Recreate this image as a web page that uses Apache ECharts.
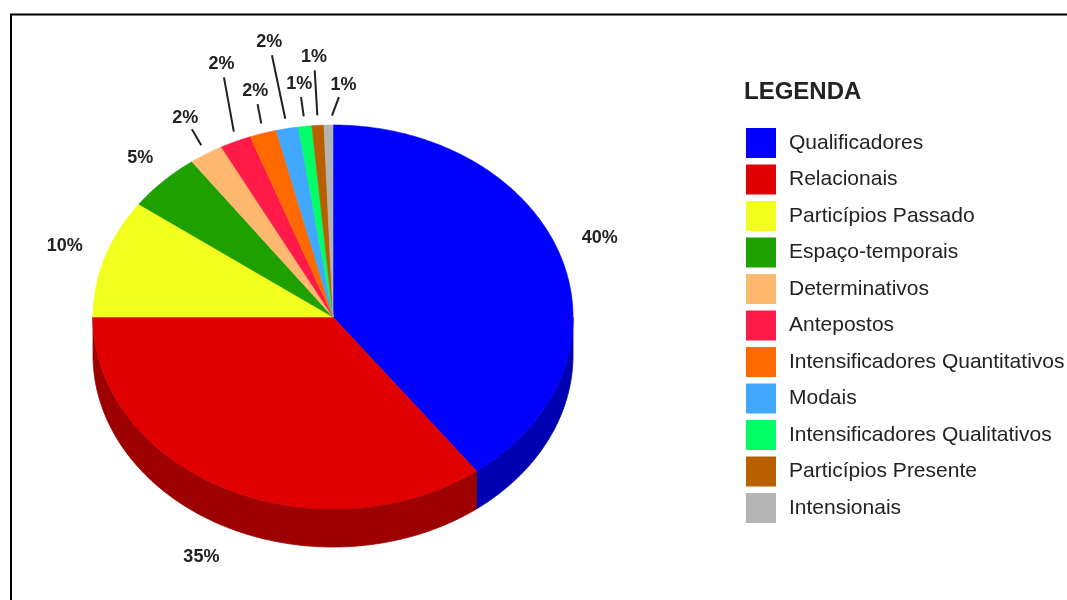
<!DOCTYPE html>
<html>
<head>
<meta charset="utf-8">
<script src="https://cdn.jsdelivr.net/npm/echarts@6/dist/echarts.min.js"></script>
<style>html,body{margin:0;padding:0;background:#fff;}#main{width:1067px;height:600px;}</style>
</head>
<body>
<div id="main"></div>
<script>
// ---- data ----
const categories = ['Qualificadores', 'Relacionais', 'Particípios Passado', 'Espaço-temporais',
  'Determinativos', 'Antepostos', 'Intensificadores Quantitativos', 'Modais',
  'Intensificadores Qualitativos', 'Particípios Presente', 'Intensionais'];
const values = [39.8, 35.2, 10, 5, 2.3, 2.1, 1.8, 1.5, 0.9, 0.8, 0.6];
const colors = ['#0000ff', '#e00000', '#f2ff1e', '#1ea000', '#ffb870', '#ff1a48',
  '#ff6a00', '#40a8ff', '#00ff66', '#b86000', '#b4b4b4'];

// ---- layout (style, not data) ----
const PIE = { cx: 333, cy: 317, rx: 240, ry: 192, depth: 38 };
const labelOffsets = [[39, -18], [-24, 68], [-40, -12], [-23, -23], [-21, -36], [-14, -77],
  [-8, -42], [-18, -86], [-6, -42], [-4, -68], [15, -40]];
const labelLines = [false, false, false, false, true, true, true, true, true, true, true];
const FONT = '"Liberation Sans", Arial, Helvetica, sans-serif';

const total = values.reduce((a, b) => a + b, 0);
const cum = [];
values.reduce((acc, v, i) => { cum[i] = acc; return acc + v; }, 0);

function darken(hex, f) {
  const n = parseInt(hex.slice(1), 16);
  const r = Math.round(((n >> 16) & 255) * f), g = Math.round(((n >> 8) & 255) * f), b = Math.round((n & 255) * f);
  return 'rgb(' + r + ',' + g + ',' + b + ')';
}
function pt(aDeg, dy) {
  const a = aDeg * Math.PI / 180;
  return [PIE.cx + PIE.rx * Math.cos(a), PIE.cy - PIE.ry * Math.sin(a) + (dy || 0)];
}
function arc(from, to, dy) {
  const pts = [];
  const n = Math.max(2, Math.ceil(Math.abs(from - to) / 0.5));
  for (let k = 0; k <= n; k++) pts.push(pt(from + (to - from) * k / n, dy));
  return pts;
}
function angles(i, v) {
  const a0 = 90 - 360 * cum[i] / total;
  const a1 = 90 - 360 * (cum[i] + v) / total;
  return [a0, a1];
}

function renderSide(params, api) {
  const i = params.dataIndex;
  const [a0, a1] = angles(i, api.value(0));
  const hi = Math.min(a0, 0), lo = Math.max(a1, -180);
  if (hi <= lo) return null;
  const top = arc(hi, lo, 0);
  const bot = arc(lo, hi, PIE.depth);
  const c = darken(colors[i], 0.7);
  return { type: 'polygon', shape: { points: top.concat(bot) },
    style: { fill: c, stroke: c, lineWidth: 0.8 } };
}

function renderTop(params, api) {
  const i = params.dataIndex;
  const v = api.value(0);
  const [a0, a1] = angles(i, v);
  const pts = [[PIE.cx, PIE.cy]].concat(arc(a0, a1, 0));
  const children = [{ type: 'polygon', shape: { points: pts },
    style: { fill: colors[i], stroke: colors[i], lineWidth: 0.6 } }];
  const anchor = pt((a0 + a1) / 2, 0);
  const off = labelOffsets[i];
  const lx = anchor[0] + off[0], ly = anchor[1] + off[1];
  if (labelLines[i]) {
    const len = Math.hypot(off[0], off[1]);
    const ux = off[0] / len, uy = off[1] / len;
    children.push({ type: 'line', z2: 20,
      shape: { x1: anchor[0] + ux * 10, y1: anchor[1] + uy * 10, x2: lx - ux * 13, y2: ly - uy * 13 },
      style: { stroke: '#222', lineWidth: 2 } });
  }
  children.push({ type: 'text', z2: 30, x: lx, y: ly,
    style: { text: Math.round(v / total * 100) + '%', fill: '#222', fontSize: 18, fontWeight: 'bold',
      fontFamily: FONT, align: 'center', verticalAlign: 'middle' } });
  return { type: 'group', children: children };
}

const chart = echarts.init(document.getElementById('main'), null, { renderer: 'canvas' });
chart.setOption({
  animation: false,
  backgroundColor: '#ffffff',
  title: { text: 'LEGENDA', left: 744, top: 80, padding: 0,
    textStyle: { fontSize: 24, fontWeight: 'bold', color: '#222', fontFamily: FONT } },
  legend: {
    orient: 'vertical', left: 746, top: 128, padding: 0,
    itemWidth: 30, itemHeight: 30, itemGap: 6.5, icon: 'rect',
    data: categories,
    textStyle: { fontSize: 21, color: '#222', fontFamily: FONT, padding: [0, 0, 0, 8] }
  },
  graphic: [{ type: 'polyline', shape: { points: [[11, 600], [11, 14.5], [1067, 14.5]] },
    style: { stroke: '#000', lineWidth: 2, fill: null } }],
  series: [
    { type: 'pie', name: 'legend', radius: [0, 0], center: [PIE.cx, PIE.cy], silent: true,
      label: { show: false }, labelLine: { show: false }, emphasis: { disabled: true },
      data: categories.map((c, i) => ({ name: c, value: values[i], itemStyle: { color: colors[i] } })) },
    { type: 'custom', name: 'sides', coordinateSystem: 'none', z: 1, silent: true,
      renderItem: renderSide, data: values.map(v => [v]) },
    { type: 'custom', name: 'tops', coordinateSystem: 'none', z: 2, silent: true,
      renderItem: renderTop, data: values.map(v => [v]) }
  ]
});
</script>
</body>
</html>
